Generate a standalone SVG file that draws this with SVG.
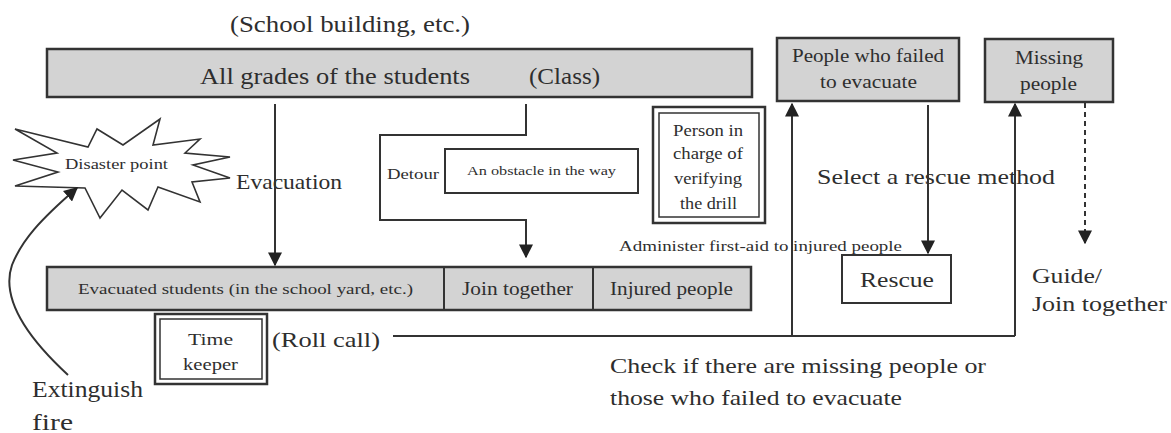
<svg xmlns="http://www.w3.org/2000/svg" width="1171" height="433" viewBox="0 0 1171 433">
<defs>
<style>
text{font-family:"Liberation Serif","Times New Roman",serif;fill:#2e2e2e}
.g{fill:#d3d3d3;stroke:#333;stroke-width:2.5}
.w{fill:#fff;stroke:#333;stroke-width:2}
.ln{fill:none;stroke:#333;stroke-width:2}
</style>
<marker id="ahs" viewBox="0 0 10 10" refX="9" refY="5" markerWidth="14" markerHeight="14" markerUnits="userSpaceOnUse" orient="auto">
<path d="M0,0 L10,5 L0,10 z" fill="#222"/>
</marker>
</defs>
<rect width="1171" height="433" fill="#fff"/>

<text x="230" y="32" font-size="23" textLength="240" lengthAdjust="spacingAndGlyphs">(School building, etc.)</text>

<g id="all-grades">
<rect class="g" x="47" y="49" width="705" height="48"/>
<text x="200" y="84" font-size="23" textLength="270" lengthAdjust="spacingAndGlyphs">All grades of the students</text>
<text x="529" y="84" font-size="23" textLength="71" lengthAdjust="spacingAndGlyphs">(Class)</text>
</g>

<g id="disaster-point">
<polygon fill="#fff" stroke="#333" stroke-width="1.6" points="15,129 88,147 97,129 123,145 160,119 153,145 200,139 185,153 230,157 193,165 230,178 192,182 200,202 158,187 148,210 122,190 100,218 85,188 15,186 58,172 13,160 57,153"/>
<text x="65" y="169" font-size="14" textLength="103" lengthAdjust="spacingAndGlyphs">Disaster point</text>
</g>

<text x="236" y="189" font-size="21" textLength="106" lengthAdjust="spacingAndGlyphs">Evacuation</text>

<g id="obstacle">
<rect class="w" x="445" y="149" width="193" height="44"/>
<text x="467" y="175" font-size="13" textLength="149" lengthAdjust="spacingAndGlyphs">An obstacle in the way</text>
</g>
<text x="387" y="179" font-size="14.5" textLength="52" lengthAdjust="spacingAndGlyphs">Detour</text>

<g id="person-in-charge">
<rect fill="#fff" stroke="#333" stroke-width="2.5" x="653" y="107" width="112" height="116"/>
<rect fill="none" stroke="#333" stroke-width="1.5" x="659" y="113" width="100" height="104"/>
<text x="673" y="136" font-size="16" textLength="70" lengthAdjust="spacingAndGlyphs">Person in</text>
<text x="673" y="159" font-size="16" textLength="70" lengthAdjust="spacingAndGlyphs">charge of</text>
<text x="674" y="184" font-size="16" textLength="68" lengthAdjust="spacingAndGlyphs">verifying</text>
<text x="680" y="209" font-size="16" textLength="57" lengthAdjust="spacingAndGlyphs">the drill</text>
</g>

<g id="failed-to-evacuate">
<rect class="g" x="777" y="38" width="182" height="63"/>
<text x="792" y="62" font-size="19" textLength="152" lengthAdjust="spacingAndGlyphs">People who failed</text>
<text x="820" y="88" font-size="19" textLength="97" lengthAdjust="spacingAndGlyphs">to evacuate</text>
</g>

<g id="missing-people">
<rect class="g" x="985" y="39" width="128" height="63"/>
<text x="1015" y="64" font-size="19" textLength="68" lengthAdjust="spacingAndGlyphs">Missing</text>
<text x="1020" y="90" font-size="19" textLength="57" lengthAdjust="spacingAndGlyphs">people</text>
</g>

<text x="817" y="184" font-size="22" textLength="238" lengthAdjust="spacingAndGlyphs">Select a rescue method</text>
<text x="619" y="251" font-size="15.5" textLength="283" lengthAdjust="spacingAndGlyphs">Administer first-aid to injured people</text>

<g id="rescue">
<rect class="w" x="842" y="255" width="109" height="48"/>
<text x="860" y="287" font-size="22" textLength="74" lengthAdjust="spacingAndGlyphs">Rescue</text>
</g>

<text x="1032" y="283" font-size="22" textLength="70" lengthAdjust="spacingAndGlyphs">Guide/</text>
<text x="1032" y="311" font-size="22" textLength="135" lengthAdjust="spacingAndGlyphs">Join together</text>

<g id="evacuated-students">
<rect class="g" x="47" y="267" width="704" height="43"/>
<line x1="444" y1="267" x2="444" y2="310" stroke="#333" stroke-width="2"/>
<line x1="593" y1="267" x2="593" y2="310" stroke="#333" stroke-width="2"/>
<text x="78" y="294" font-size="15.5" textLength="335" lengthAdjust="spacingAndGlyphs">Evacuated students (in the school yard, etc.)</text>
<text x="462" y="295" font-size="19.5" textLength="111" lengthAdjust="spacingAndGlyphs">Join together</text>
<text x="610" y="295" font-size="19.5" textLength="123" lengthAdjust="spacingAndGlyphs">Injured people</text>
</g>

<g id="time-keeper">
<rect fill="#fff" stroke="#333" stroke-width="2.5" x="155" y="314" width="112" height="70"/>
<rect fill="none" stroke="#333" stroke-width="1.5" x="160" y="319" width="102" height="60"/>
<text x="188" y="345" font-size="16" textLength="45" lengthAdjust="spacingAndGlyphs">Time</text>
<text x="183" y="370" font-size="16" textLength="55" lengthAdjust="spacingAndGlyphs">keeper</text>
</g>

<text x="272" y="347" font-size="22" textLength="108" lengthAdjust="spacingAndGlyphs">(Roll call)</text>
<text x="32" y="397" font-size="23" textLength="111" lengthAdjust="spacingAndGlyphs">Extinguish</text>
<text x="32" y="430" font-size="23" textLength="41" lengthAdjust="spacingAndGlyphs">fire</text>
<text x="610" y="373" font-size="21.5" textLength="376" lengthAdjust="spacingAndGlyphs">Check if there are missing people or</text>
<text x="610" y="405" font-size="21.5" textLength="292" lengthAdjust="spacingAndGlyphs">those who failed to evacuate</text>

<g id="connectors">
<line class="ln" x1="275" y1="104" x2="275" y2="265" marker-end="url(#ahs)"/>
<polyline class="ln" points="526,104 526,135 380,135 380,220 526,220 526,257" marker-end="url(#ahs)"/>
<polyline class="ln" points="393,336 1015,336"/>
<line class="ln" x1="792" y1="336" x2="792" y2="104" marker-end="url(#ahs)"/>
<line class="ln" x1="1015" y1="336" x2="1015" y2="104" marker-end="url(#ahs)"/>
<line class="ln" x1="928" y1="105" x2="928" y2="253" marker-end="url(#ahs)"/>
<line class="ln" x1="1085" y1="103" x2="1085" y2="243" stroke-dasharray="5,4" marker-end="url(#ahs)"/>
<path class="ln" d="M68,375 C30,340 0,300 12,265 C22,240 40,220 77,188" stroke-width="1.6" marker-end="url(#ahs)"/>
</g>
</svg>
